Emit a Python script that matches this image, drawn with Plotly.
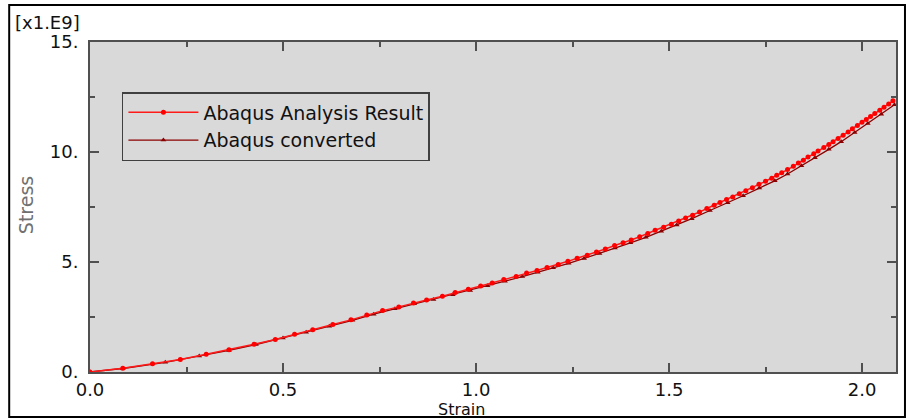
import plotly.graph_objects as go

# Data (stress in units of 1.E9)
analysis_strain = [0.000, 0.085, 0.162, 0.234, 0.301, 0.360, 0.425, 0.480, 0.530, 0.577,
                   0.629, 0.676, 0.717, 0.758, 0.800, 0.838, 0.872, 0.913, 0.946, 0.980,
                   1.012, 1.042, 1.072, 1.104, 1.131, 1.158, 1.184, 1.213, 1.238, 1.262,
                   1.288, 1.312, 1.335, 1.359, 1.381, 1.402, 1.424, 1.445, 1.464, 1.486,
                   1.506, 1.525, 1.543, 1.561, 1.579, 1.598, 1.617, 1.632, 1.649, 1.665,
                   1.682, 1.699, 1.716, 1.733, 1.750, 1.766, 1.779, 1.792, 1.807, 1.822,
                   1.835, 1.848, 1.860, 1.875, 1.886, 1.901, 1.914, 1.925, 1.938, 1.951,
                   1.964, 1.975, 1.988, 2.000, 2.011, 2.022, 2.033, 2.046, 2.057, 2.069,
                   2.080]
analysis_stress = [0.00, 0.17, 0.37, 0.57, 0.81, 1.01, 1.26, 1.48, 1.72, 1.92,
                   2.16, 2.37, 2.59, 2.79, 2.96, 3.14, 3.27, 3.44, 3.61, 3.76,
                   3.91, 4.05, 4.20, 4.34, 4.50, 4.61, 4.75, 4.89, 5.03, 5.17,
                   5.31, 5.46, 5.59, 5.75, 5.87, 6.00, 6.15, 6.30, 6.44, 6.58,
                   6.72, 6.86, 7.00, 7.13, 7.27, 7.43, 7.58, 7.70, 7.84, 7.96,
                   8.10, 8.24, 8.38, 8.53, 8.67, 8.81, 8.94, 9.06, 9.20, 9.35,
                   9.50, 9.63, 9.77, 9.92, 10.04, 10.20, 10.34, 10.47, 10.61, 10.76,
                   10.91, 11.06, 11.20, 11.35, 11.48, 11.61, 11.75, 11.90, 12.03, 12.18,
                   12.33]

converted_strain = [0.000, 0.085, 0.195, 0.283, 0.360, 0.430, 0.500, 0.560, 0.620, 0.680,
                    0.735, 0.790, 0.840, 0.890, 0.940, 0.985, 1.030, 1.075, 1.120, 1.160,
                    1.200, 1.240, 1.280, 1.320, 1.360, 1.400, 1.440, 1.480, 1.520, 1.559,
                    1.606, 1.652, 1.692, 1.734, 1.774, 1.807, 1.843, 1.878, 1.914, 1.946,
                    1.981, 2.015, 2.050, 2.084]
converted_stress = [0.00, 0.16, 0.44, 0.73, 0.98, 1.25, 1.55, 1.81, 2.08, 2.35,
                    2.63, 2.87, 3.10, 3.29, 3.51, 3.71, 3.92, 4.13, 4.34, 4.53,
                    4.74, 4.94, 5.16, 5.39, 5.64, 5.87, 6.12, 6.40, 6.68, 6.97,
                    7.34, 7.69, 8.01, 8.36, 8.69, 9.00, 9.37, 9.74, 10.12, 10.47,
                    10.89, 11.30, 11.72, 12.15]

x_ticks = [0.0, 0.5, 1.0, 1.5, 2.0]
x_tick_text = ["0.0", "0.5", "1.0", "1.5", "2.0"]
y_ticks = [0, 5, 10, 15]
y_tick_text = ["0.", "5.", "10.", "15."]

FONT = "DejaVu Sans"
AXIS_COL = "#505050"

fig = go.Figure()
fig.add_trace(go.Scatter(
    x=converted_strain, y=converted_stress, mode="lines+markers",
    name="Abaqus converted",
    line=dict(color="#8b0000", width=1.3),
    marker=dict(symbol="triangle-up", size=5, color="#8b0000"),
))
fig.add_trace(go.Scatter(
    x=analysis_strain, y=analysis_stress, mode="lines+markers",
    name="Abaqus Analysis Result",
    line=dict(color="#ff1a1a", width=1.5),
    marker=dict(symbol="circle", size=5, color="#ff0000"),
))

L, R, T, B = 90, 11, 42, 47
W, H = 909, 419
pw, ph = W - L - R, H - T - B

def px(xp):
    return (xp - L) / pw

def py(yp):
    return (H - B - yp) / ph

fig.update_layout(
    width=W, height=H,
    margin=dict(l=L, r=R, t=T, b=B, pad=0),
    paper_bgcolor="white",
    plot_bgcolor="#d9d9d9",
    font=dict(family=FONT, size=18, color="#111111"),
    showlegend=True,
    legend=dict(
        traceorder="reversed",
        x=px(122), y=py(92), xanchor="left", yanchor="top",
        bgcolor="#d9d9d9", bordercolor="#404040", borderwidth=1.5,
        font=dict(family=FONT, size=19, color="#111111"),
        itemwidth=70, tracegroupgap=0,
    ),
    xaxis=dict(
        range=[0, 2.088], tickvals=x_ticks, ticktext=x_tick_text,
        showgrid=False, zeroline=False,
        showline=True, linecolor=AXIS_COL, linewidth=2, mirror="ticks",
        ticks="inside", ticklen=9, tickwidth=1.5, tickcolor=AXIS_COL,
        tickfont=dict(family=FONT, size=18, color="#111111"),
        minor=dict(dtick=0.25, tick0=0, ticks="inside", ticklen=5, tickwidth=1.5, tickcolor=AXIS_COL),
    ),
    yaxis=dict(
        range=[0, 15], tickvals=y_ticks, ticktext=y_tick_text,
        showgrid=False, zeroline=False,
        showline=True, linecolor=AXIS_COL, linewidth=2, mirror="ticks",
        ticks="inside", ticklen=9, tickwidth=1.5, tickcolor=AXIS_COL,
        tickfont=dict(family=FONT, size=18, color="#111111"),
        ticklabelstandoff=6,
        minor=dict(dtick=2.5, tick0=0, ticks="inside", ticklen=5, tickwidth=1.5, tickcolor=AXIS_COL),
    ),
    shapes=[dict(
        type="rect", xref="paper", yref="paper",
        x0=px(9), x1=px(907), y0=py(417), y1=py(5),
        line=dict(color="black", width=2), fillcolor="rgba(0,0,0,0)", layer="above",
    )],
    annotations=[
        dict(text="[x1.E9]", xref="paper", yref="paper", x=px(13), y=py(22),
             xanchor="left", yanchor="middle", showarrow=False,
             font=dict(family=FONT, size=18, color="#111111")),
        dict(text="Stress", xref="paper", yref="paper", x=px(26), y=py(205),
             xanchor="center", yanchor="middle", textangle=-90, showarrow=False,
             font=dict(family=FONT, size=19, color="#707070")),
        dict(text="Strain", xref="paper", yref="paper", x=px(462), y=py(409),
             xanchor="center", yanchor="middle", showarrow=False,
             font=dict(family=FONT, size=16, color="#111111")),
    ],
)

fig.write_html("out.html")
